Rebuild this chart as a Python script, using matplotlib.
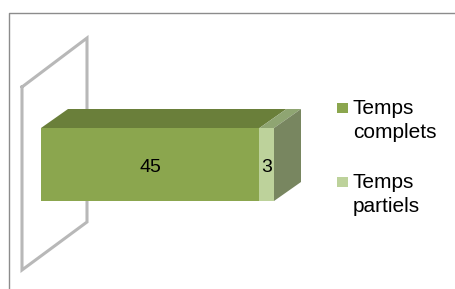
import matplotlib.pyplot as plt
from matplotlib.patches import Polygon

plt.rcParams['font.family'] = ['Liberation Sans', 'DejaVu Sans']

# Donnees
series = [["Temps", "complets"], ["Temps", "partiels"]]
values = [45, 3]
front_colors = ["#8BA64E", "#BDD29B"]
top_colors = ["#6A7F3A", "#8FA572"]
side_color = "#788660"

fig = plt.figure(figsize=(4.56, 2.89), dpi=100)
ax = fig.add_axes([0, 0, 1, 1])

# echelle: 0 -> px 41, total -> px 274
total = sum(values)
px_per_unit = (274 - 41) / total
ax.set_xlim(-41 / px_per_unit, (456 - 41) / px_per_unit)
ax.set_ylim(289, 0)
ax.axis("off")

def px(x):
    return (x - 41) / px_per_unit

# cadre exterieur
ax.plot([px(8.5), px(8.5), px(470)], [289, 12.5, 12.5],
        color="#8C8C8C", lw=1.0, solid_capstyle="butt", zorder=1)

# paroi du fond (parallelogramme)
wx = [px(22), px(87)]
ax.plot([wx[0], wx[1], wx[1], wx[0], wx[0]], [87, 38, 222, 270, 87],
        color="#B8B8B8", lw=2.2, solid_joinstyle="miter", zorder=2)

# barre 3D empilee
y0, h = 164.5, 73
dx = 27 / px_per_unit
dy = -19
left = 0
for i, v in enumerate(values):
    ax.barh(y0, v, left=left, height=h, color=front_colors[i], lw=0, zorder=5)
    top = Polygon([(left, y0 - h / 2), (left + v, y0 - h / 2),
                   (left + v + dx, y0 - h / 2 + dy), (left + dx, y0 - h / 2 + dy)],
                  closed=True, color=top_colors[i], lw=0, zorder=4)
    ax.add_patch(top)
    ax.text(left + v / 2, 171.5, str(v), ha="center", va="baseline",
            fontsize=14, color="black", zorder=6)
    left += v

side = Polygon([(left, y0 - h / 2), (left + dx, y0 - h / 2 + dy),
                (left + dx, y0 + h / 2 + dy), (left, y0 + h / 2)],
               closed=True, color=side_color, lw=0, zorder=4)
ax.add_patch(side)

# legende
leg_y = [108, 182]
for i, lines in enumerate(series):
    ax.add_patch(plt.Rectangle((px(337), leg_y[i] - 5), 11 / px_per_unit, 10,
                               color=front_colors[i], lw=0))
    for j, line in enumerate(lines):
        ax.text(px(353), leg_y[i] + 6.5 + 23.5 * j, line, ha="left", va="baseline",
                fontsize=15, color="black")

fig.savefig("out.png", dpi=100)
